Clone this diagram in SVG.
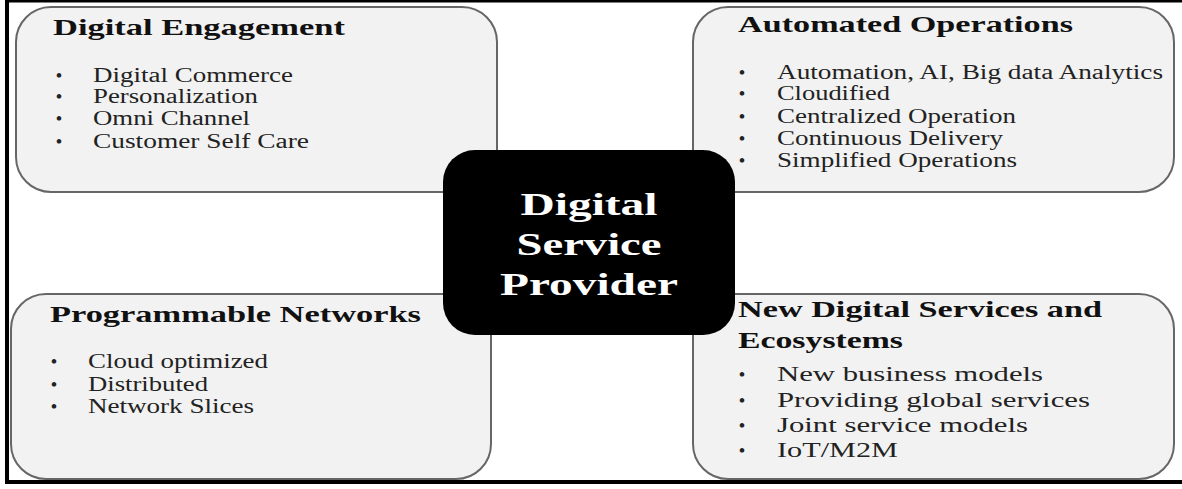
<svg xmlns="http://www.w3.org/2000/svg" width="1182" height="489" viewBox="0 0 1182 489">
<style>
.box{fill:#f2f2f2;stroke:#666;stroke-width:2}
.core{fill:#000}
.t{font-family:"Liberation Serif","Times New Roman",serif;font-weight:bold;font-size:23px;fill:#111}
.i{font-family:"Liberation Serif","Times New Roman",serif;font-size:20px;fill:#222}
.i2{font-family:"Liberation Serif","Times New Roman",serif;font-size:21px;fill:#222}
.b{font-family:"Liberation Serif","Times New Roman",serif;font-size:17px;font-weight:bold;fill:#222;text-anchor:middle}
.c{font-family:"Liberation Serif","Times New Roman",serif;font-weight:bold;font-size:31px;fill:#fff;text-anchor:middle}
.frame{stroke:#000;fill:none}
</style>
<rect x="0" y="0" width="1182" height="489" fill="#fff"/>
<g id="frame">
<line class="frame" x1="7" y1="0" x2="7" y2="484" stroke-width="4"/>
<line class="frame" x1="5" y1="1" x2="1182" y2="1" stroke-width="3"/>
<line class="frame" x1="5" y1="482" x2="1182" y2="482" stroke-width="4"/>
</g>
<g id="connectors"></g>
<g id="digital-engagement">
<rect class="box" x="16" y="7" width="481" height="185" rx="35"/>
<text class="t" x="53" y="35" textLength="292" lengthAdjust="spacingAndGlyphs">Digital Engagement</text>
<text class="b" x="59" y="81">•</text><text class="i" x="93" y="82" textLength="200" lengthAdjust="spacingAndGlyphs">Digital Commerce</text>
<text class="b" x="59" y="102">•</text><text class="i" x="93" y="103" textLength="165" lengthAdjust="spacingAndGlyphs">Personalization</text>
<text class="b" x="59" y="124">•</text><text class="i" x="93" y="125" textLength="157" lengthAdjust="spacingAndGlyphs">Omni Channel</text>
<text class="b" x="59" y="147">•</text><text class="i" x="93" y="148" textLength="216" lengthAdjust="spacingAndGlyphs">Customer Self Care</text>
</g>
<g id="automated-operations">
<rect class="box" x="693" y="7" width="481" height="185" rx="35"/>
<text class="t" x="738" y="32" textLength="335" lengthAdjust="spacingAndGlyphs">Automated Operations</text>
<text class="b" x="742" y="78">•</text><text class="i" x="777" y="79" textLength="386" lengthAdjust="spacingAndGlyphs">Automation, AI, Big data Analytics</text>
<text class="b" x="742" y="99">•</text><text class="i" x="777" y="100" textLength="113" lengthAdjust="spacingAndGlyphs">Cloudified</text>
<text class="b" x="742" y="122">•</text><text class="i" x="777" y="123" textLength="239" lengthAdjust="spacingAndGlyphs">Centralized Operation</text>
<text class="b" x="742" y="144">•</text><text class="i" x="777" y="145" textLength="226" lengthAdjust="spacingAndGlyphs">Continuous Delivery</text>
<text class="b" x="742" y="166">•</text><text class="i" x="777" y="167" textLength="240" lengthAdjust="spacingAndGlyphs">Simplified Operations</text>
</g>
<g id="programmable-networks">
<rect class="box" x="11" y="294" width="480" height="185" rx="35"/>
<text class="t" x="50" y="322" textLength="371" lengthAdjust="spacingAndGlyphs">Programmable Networks</text>
<text class="b" x="54" y="367">•</text><text class="i" x="88" y="368" textLength="180" lengthAdjust="spacingAndGlyphs">Cloud optimized</text>
<text class="b" x="54" y="390">•</text><text class="i" x="88" y="391" textLength="120" lengthAdjust="spacingAndGlyphs">Distributed</text>
<text class="b" x="54" y="412">•</text><text class="i" x="88" y="413" textLength="166" lengthAdjust="spacingAndGlyphs">Network Slices</text>
</g>
<g id="new-digital-services">
<rect class="box" x="693" y="294" width="481" height="185" rx="35"/>
<text class="t" x="738" y="317" textLength="364" lengthAdjust="spacingAndGlyphs">New Digital Services and</text>
<text class="t" x="738" y="348" textLength="165" lengthAdjust="spacingAndGlyphs">Ecosystems</text>
<text class="b" x="742" y="380">•</text><text class="i2" x="777" y="381" textLength="266" lengthAdjust="spacingAndGlyphs">New business models</text>
<text class="b" x="742" y="406">•</text><text class="i2" x="777" y="407" textLength="313" lengthAdjust="spacingAndGlyphs">Providing global services</text>
<text class="b" x="742" y="431">•</text><text class="i2" x="777" y="432" textLength="251" lengthAdjust="spacingAndGlyphs">Joint service models</text>
<text class="b" x="742" y="456">•</text><text class="i2" x="777" y="457" textLength="121" lengthAdjust="spacingAndGlyphs">IoT/M2M</text>
</g>
<g id="digital-service-provider">
<rect class="core" x="443" y="150" width="292" height="185" rx="32"/>
<text class="c" x="589" y="215" textLength="137" lengthAdjust="spacingAndGlyphs">Digital</text>
<text class="c" x="589" y="255" textLength="145" lengthAdjust="spacingAndGlyphs">Service</text>
<text class="c" x="589" y="295" textLength="178" lengthAdjust="spacingAndGlyphs">Provider</text>
</g>
</svg>
